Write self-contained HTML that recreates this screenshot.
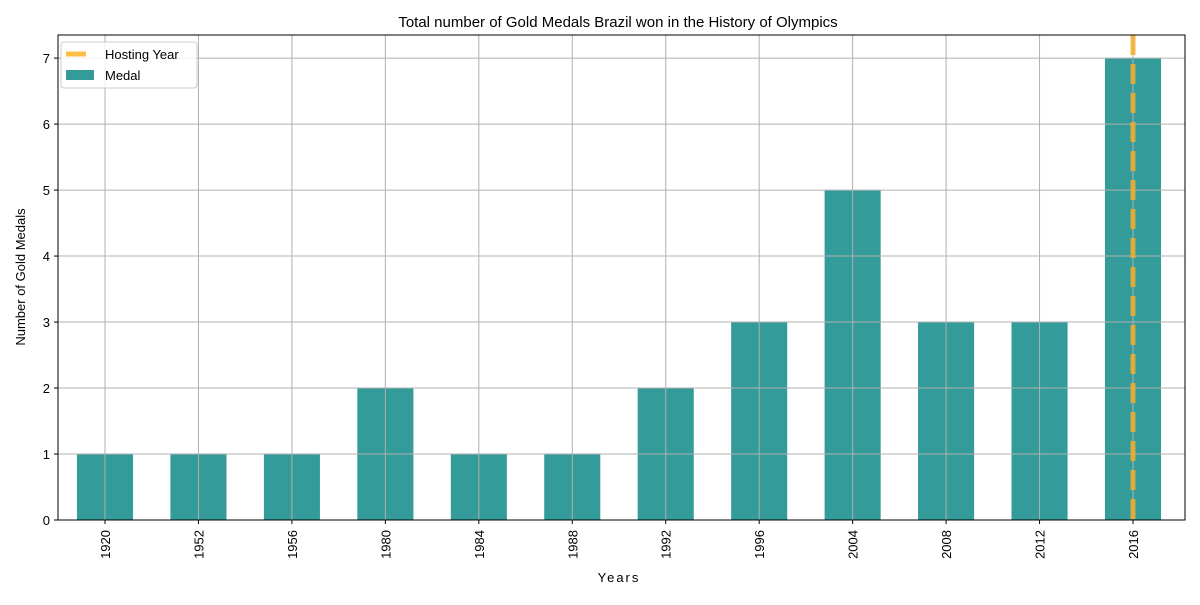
<!DOCTYPE html>
<html><head><meta charset="utf-8"><style>
body{margin:0;background:#fff;}
svg text{font-family:"Liberation Sans","DejaVu Sans",sans-serif;fill:#000;}
</style></head><body>
<svg id="chart" width="1200" height="600" xmlns="http://www.w3.org/2000/svg">
<rect width="1200" height="600" fill="#fff"/>
<text x="618" y="27" font-size="15" text-anchor="middle">Total number of Gold Medals Brazil won in the History of Olympics</text>
<g id="bars"></g><g id="grid"></g><g id="host"></g><g id="ticks"></g>
<rect x="58" y="35" width="1127" height="485" fill="none" stroke="#000" stroke-width="1"/>
<text x="619" y="582" font-size="13" text-anchor="middle" letter-spacing="2">Years</text>
<text transform="translate(25,277) rotate(-90)" font-size="13" text-anchor="middle">Number of Gold Medals</text>
<g>
<rect x="61" y="42" width="136" height="46" rx="3" fill="#fff" fill-opacity="0.8" stroke="#ccc"/>
<line x1="66" y1="54" x2="86" y2="54" stroke="#ffb732" stroke-opacity="0.9" stroke-width="5"/>
<text x="105" y="59" font-size="13">Hosting Year</text>
<rect x="66" y="70" width="28" height="10" fill="#339b99"/>
<text x="105" y="80" font-size="13">Medal</text>
</g>
</svg>
<script>
const years=["1920","1952","1956","1980","1984","1988","1992","1996","2004","2008","2012","2016"];
const medals=[1,1,1,2,1,1,2,3,5,3,3,7];
const yTicks=[0,1,2,3,4,5,6,7];
const hostYear="2016";
const NS="http://www.w3.org/2000/svg";
const L=58,R=1185,T=35,B=520,yMax=7.35;
const first=105,last=1133;
const band=(last-first)/(years.length-1);
const xC=i=>first+band*i;
const y=v=>B-(v/yMax)*(B-T);
function mk(tag,attrs,parent){const e=document.createElementNS(NS,tag);for(const k in attrs)e.setAttribute(k,attrs[k]);parent.appendChild(e);return e;}
const gb=document.getElementById('bars'),gg=document.getElementById('grid'),gt=document.getElementById('ticks'),gh=document.getElementById('host');
years.forEach((yr,i)=>{
 const w=band*0.6;
 const r=mk('rect',{x:xC(i)-w/2,y:y(medals[i]),width:w,height:B-y(medals[i]),fill:'#339b99'},gb);
 
 
 mk('line',{x1:xC(i),x2:xC(i),y1:T,y2:B,stroke:'#b0b0b0','stroke-width':1},gg);
 mk('line',{x1:xC(i),x2:xC(i),y1:B,y2:B+4,stroke:'#000'},gt);
 const t=mk('text',{transform:`translate(${xC(i)+5},${B+10}) rotate(-90)`,'font-size':13,'text-anchor':'end'},gt);
 t.textContent=yr;
 
 
});
yTicks.forEach(v=>{
 mk('line',{x1:L,x2:R,y1:y(v),y2:y(v),stroke:'#b0b0b0','stroke-width':1},gg);
 mk('line',{x1:L-4,x2:L,y1:y(v),y2:y(v),stroke:'#000'},gt);
 const t=mk('text',{x:L-8,y:y(v)+5,'font-size':13,'text-anchor':'end'},gt);
 t.textContent=v;
 
 
});
const hi=years.indexOf(hostYear);
const hl=mk('line',{x1:xC(hi),x2:xC(hi),y1:T,y2:B,stroke:'#f5ad2c','stroke-opacity':0.85,'stroke-width':5,'stroke-dasharray':'20 9'},gh);


</script>
</body></html>
